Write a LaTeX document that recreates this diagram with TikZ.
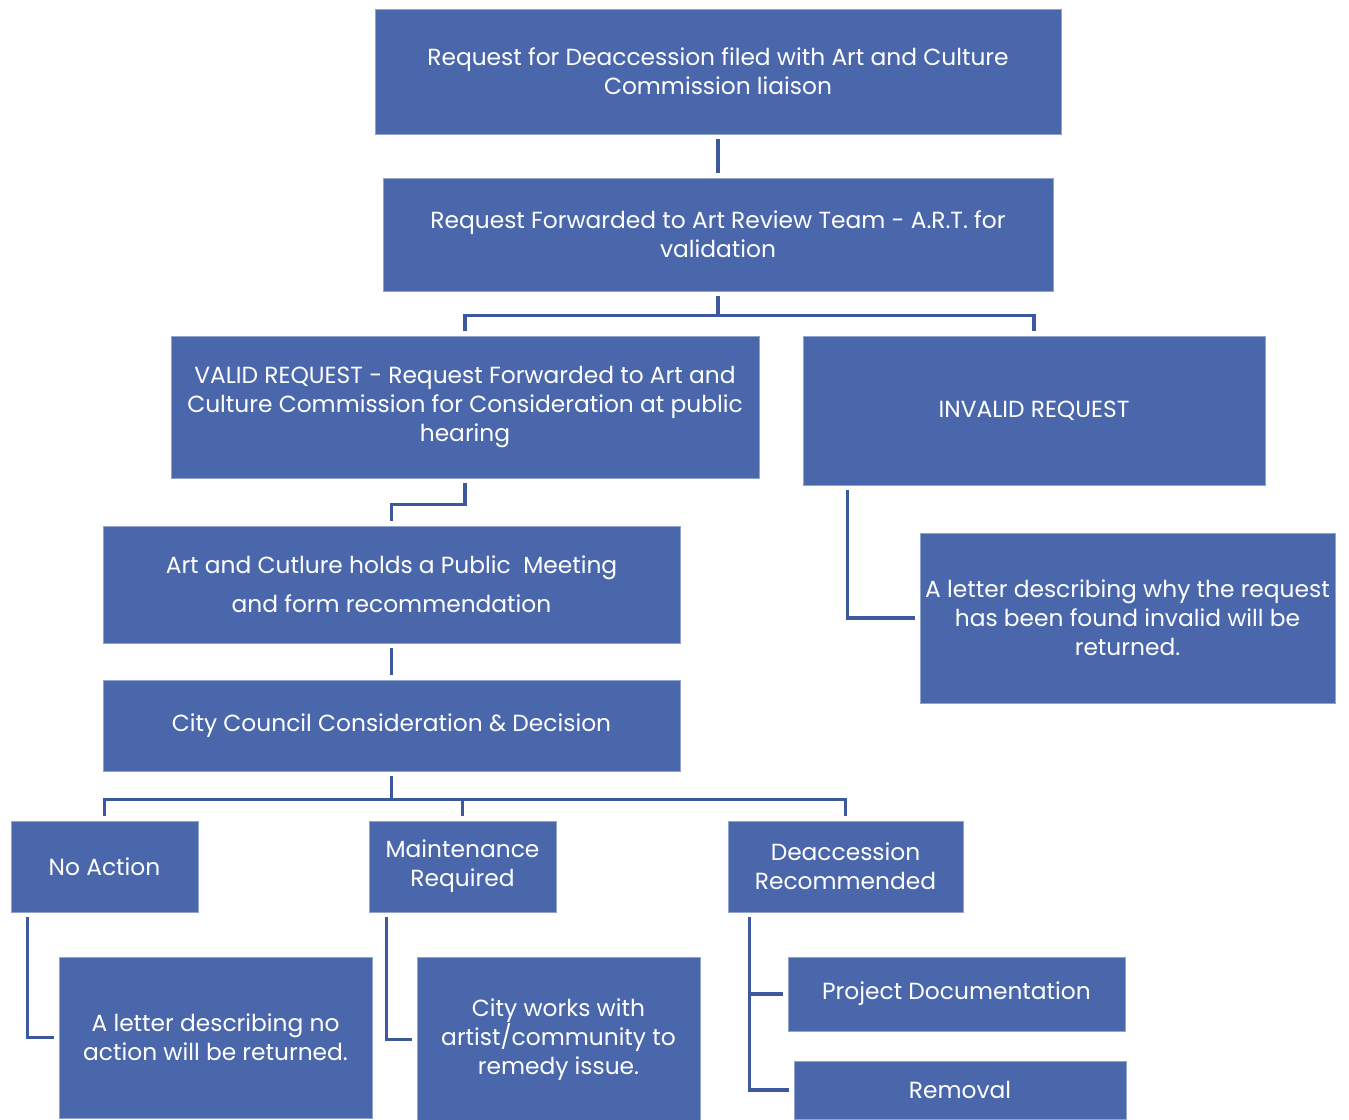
\documentclass[tikz,border=0pt]{standalone}
\usepackage{fontspec}
\setmainfont{Poppins}
\usetikzlibrary{calc}
\definecolor{boxblue}{RGB}{74,103,172}
\definecolor{lineblue}{RGB}{62,88,158}
\tikzset{
  box/.style={rectangle, fill=boxblue, draw=boxblue!60!white, line width=0.6pt,
    text=white, align=center, inner sep=2pt,
    font=\fontsize{17.5}{21.75}\selectfont},
  conn/.style={draw=lineblue, line width=2.3pt, shorten <=3.5pt, shorten >=3.5pt}
}
\newcommand\bx[6]{%
  \pgfmathsetmacro\bw{(#4-#2)*0.75}%
  \pgfmathsetmacro\bh{(#5-#3)*0.75}%
  \node[box, minimum width=\bw pt, minimum height=\bh pt] (#1) at ({(#2+#4)/2},{(#3+#5)/2}) {#6};}
\begin{document}
\begin{tikzpicture}[x=0.75pt,y=-0.75pt]
\useasboundingbox[fill=white] (0,0) rectangle (1349,1120);
\bx{top}{375}{9}{1061}{134}{Request for Deaccession filed with Art and Culture\\Commission liaison}
\bx{fwd}{383}{178}{1053}{291}{Request Forwarded to Art Review Team - A.R.T. for\\validation}
\bx{valid}{171}{336}{759}{478}{VALID REQUEST - Request Forwarded to Art and\\Culture Commission for Consideration at public\\hearing}
\bx{inv}{803}{336}{1265}{485}{INVALID REQUEST}
\bx{linv}{920}{533}{1335}{703}{A letter describing why the request\\has been found invalid will be\\returned.}
\bx{pub}{103}{526}{680}{643}{Art and Cutlure holds a Public\ \ Meeting\\[7.5pt]and form recommendation}
\bx{cc}{103}{680}{680}{771}{City Council Consideration \& Decision}
\bx{noact}{11}{821}{198}{912}{No Action}
\bx{maint}{369}{821}{556}{912}{Maintenance\\Required}
\bx{deacc}{728}{821}{963}{912}{Deaccession\\Recommended}
\bx{lno}{59}{957}{372}{1118}{A letter describing no\\action will be returned.}
\bx{works}{417}{957}{700}{1122}{City works with\\artist/community to\\remedy issue.}
\bx{proj}{788}{957}{1125}{1031}{Project Documentation}
\bx{rem}{794}{1061}{1126}{1119}{Removal}

\draw[conn] (top.south) -- (fwd.north);
\draw[conn] (fwd.south) -- ++(0,24) -| (valid.north);
\draw[conn] (fwd.south) -- ++(0,24) -| (inv.north);
\draw[conn] (valid.south) -- ++(0,26) -| (pub.north);
\draw[conn] (pub.south) -- (cc.north);
\draw[conn] (cc.south) -- ++(0,28) -| (noact.north);
\draw[conn] (cc.south) -- ++(0,28) -| (maint.north);
\draw[conn] (cc.south) -- ++(0,28) -| (deacc.north);
\draw[conn] ($(inv.south west)+(45,0)$) |- (linv.west);
\draw[conn] ($(noact.south west)+(17,0)$) |- (lno.west);
\draw[conn] ($(maint.south west)+(18,0)$) |- (works.west);
\draw[conn] ($(deacc.south west)+(22,0)$) |- (proj.west);
\draw[conn] ($(deacc.south west)+(22,0)$) |- (rem.west);
\end{tikzpicture}
\end{document}
